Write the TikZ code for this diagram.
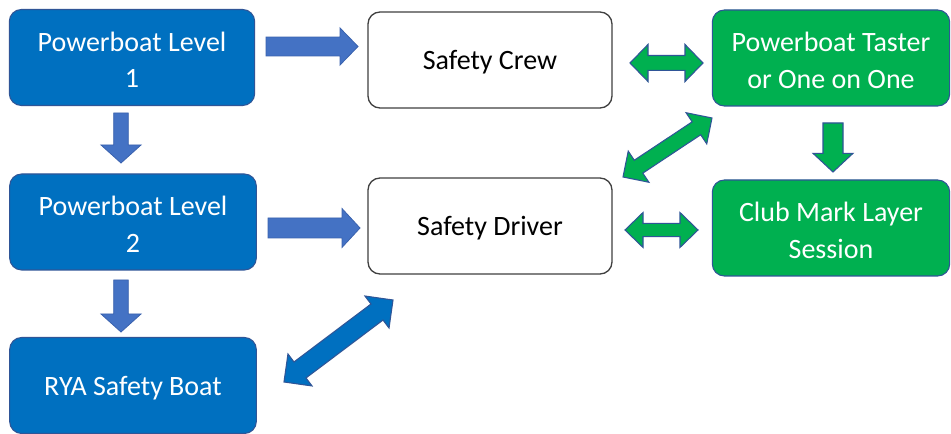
\documentclass[tikz,border=0pt]{standalone}
\usepackage{fontspec}
\setmainfont{Carlito}
\usetikzlibrary{calc}
\definecolor{boxblue}{HTML}{0070C0}
\definecolor{boxgreen}{HTML}{00B050}
\definecolor{edgeblue}{HTML}{2F5597}
\definecolor{arrblue}{HTML}{4472C4}
\definecolor{arredge}{HTML}{3A62AE}
\newcommand{\sarrow}[6]{% style, A, B, half shaft, half head, head length
  \path ($(#3)!#6!(#2)$) coordinate (tmpC);
  \path[#1] ($(#2)!#4!90:(#3)$) -- ($(tmpC)!#4!90:(#3)$) -- ($(tmpC)!#5!90:(#3)$) -- (#3)
    -- ($(tmpC)!#5!-90:(#3)$) -- ($(tmpC)!#4!-90:(#3)$) -- ($(#2)!#4!-90:(#3)$) -- cycle;}
\newcommand{\darrow}[6]{% style, A, B, half shaft, half head, head length
  \path ($(#2)!#6!(#3)$) coordinate (tmpA) ($(#3)!#6!(#2)$) coordinate (tmpB);
  \path[#1] (#2) -- ($(tmpA)!#5!90:(#3)$) -- ($(tmpA)!#4!90:(#3)$) -- ($(tmpB)!#4!90:(#3)$)
    -- ($(tmpB)!#5!90:(#3)$) -- (#3) -- ($(tmpB)!#5!-90:(#3)$) -- ($(tmpB)!#4!-90:(#3)$)
    -- ($(tmpA)!#4!-90:(#3)$) -- ($(tmpA)!#5!-90:(#3)$) -- cycle;}
\newcommand{\lines}[1]{\raisebox{-3.5pt}[\height][\depth]{\begin{tabular}{@{}c@{}}#1\end{tabular}}}
\newcommand{\oneline}[1]{\raisebox{-1.8pt}[\height][\depth]{#1}}
\begin{document}
\begin{tikzpicture}[x=0.75pt,y=-0.75pt,
  box/.style={rounded corners=9pt, minimum width=183pt, minimum height=72pt,
    align=center, font=\fontsize{21}{27.5}\selectfont, inner sep=0pt},
  bluebox/.style={box, fill=boxblue, draw=edgeblue, line width=0.8pt, text=white},
  greenbox/.style={box, fill=boxgreen, draw=edgeblue, line width=0.8pt, text=white},
  whitebox/.style={box, fill=white, draw=black!75, line width=1pt, text=black},
  barrow/.style={fill=arrblue, draw=arredge, line width=0.6pt, line join=miter},
  darkarrow/.style={fill=boxblue, draw=edgeblue, line width=0.8pt, line join=miter},
  garrow/.style={fill=boxgreen, draw=edgeblue, line width=0.8pt, line join=miter}]
\useasboundingbox[fill=white] (0,0) rectangle (951,434);

\node[bluebox, minimum width=184pt] (pl1) at (132,57.5) {\lines{Powerboat Level\\1}};
\node[whitebox] (sc) at (490,60) {\oneline{Safety Crew}};
\node[greenbox, minimum width=178pt] (pt) at (831,58) {\lines{Powerboat Taster\\or One on One}};
\node[bluebox, minimum width=185pt] (pl2) at (133,222) {\lines{Powerboat Level\\2}};
\node[whitebox] (sd) at (490,226) {\oneline{Safety Driver}};
\node[greenbox, minimum width=178pt] (cm) at (831,228) {\lines{Club Mark Layer\\Session}};
\node[bluebox, minimum width=185pt] (rya) at (133,385.5) {\oneline{RYA Safety Boat}};

% connector end points
\coordinate (a1s) at (266,46.5);  \coordinate (a1e) at (358,46.5);
\coordinate (a2s) at (121,113);   \coordinate (a2e) at (121,163);
\coordinate (a3s) at (268,228);   \coordinate (a3e) at (360,228);
\coordinate (a4s) at (121,280);   \coordinate (a4e) at (121,332);
\coordinate (a5s) at (284,382);   \coordinate (a5e) at (393,300);
\coordinate (a6s) at (630,63);    \coordinate (a6e) at (703,63);
\coordinate (a7s) at (623,177);   \coordinate (a7e) at (712,118);
\coordinate (a8s) at (833,123);   \coordinate (a8e) at (833,172);
\coordinate (a9s) at (625,230);   \coordinate (a9e) at (698,230);

\sarrow{barrow}{a1s}{a1e}{7.1pt}{13.9pt}{13.5pt}
\sarrow{barrow}{a2s}{a2e}{5.5pt}{15pt}{13.5pt}
\sarrow{barrow}{a3s}{a3e}{7.5pt}{14.6pt}{13.5pt}
\sarrow{barrow}{a4s}{a4e}{5.5pt}{15pt}{13.5pt}
\darrow{darkarrow}{a5s}{a5e}{7.5pt}{15pt}{15pt}
\darrow{garrow}{a6s}{a6e}{5.6pt}{13.9pt}{13.5pt}
\darrow{garrow}{a7s}{a7e}{5.8pt}{14pt}{14pt}
\sarrow{garrow}{a8s}{a8e}{7.5pt}{15pt}{14pt}
\darrow{garrow}{a9s}{a9e}{5pt}{13.1pt}{13.5pt}
\end{tikzpicture}
\end{document}
